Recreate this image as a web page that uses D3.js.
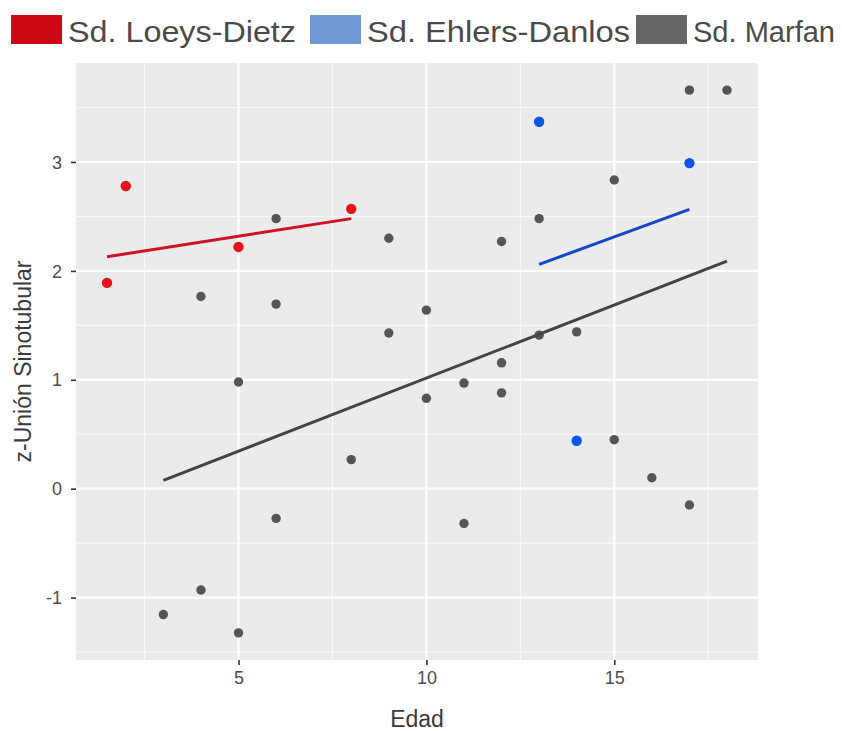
<!DOCTYPE html>
<html>
<head>
<meta charset="utf-8">
<script src="https://cdn.jsdelivr.net/npm/d3@7"></script>
<style>
    body { margin: 0; background: white; }
    text { font-family: "Liberation Sans", Arial, sans-serif; }
</style>
</head>
<body>
<div id="chart"></div>
<script>
// data
const groups = ["Sd. Loeys-Dietz", "Sd. Ehlers-Danlos", "Sd. Marfan"];

const ldAge = [1.5, 2, 5, 8];
const ldZ = [1.89, 2.78, 2.22, 2.57];

const edAge = [13, 17, 14];
const edZ = [3.37, 2.99, 0.44];

const mfAge = [17, 18, 15, 13, 6, 9, 12, 4, 6, 10, 9, 14, 13, 12, 5, 11, 12, 10, 8, 15, 16, 17, 6, 11, 3, 4, 5];
const mfZ = [3.66, 3.66, 2.835, 2.48, 2.48, 2.30, 2.27, 1.765, 1.695, 1.64, 1.43, 1.44, 1.41, 1.156, 0.98, 0.97, 0.88, 0.83, 0.267, 0.45, 0.10, -0.15, -0.273, -0.32, -1.156, -0.93, -1.324];

// fitted lines (end points, as drawn in the picture)
const ldFitAge = [1.5, 8];
const ldFitZ = [2.13, 2.48];
const edFitAge = [13, 17];
const edFitZ = [2.06, 2.565];
const mfFitAge = [3, 18];
const mfFitZ = [0.077, 2.09];

const xTicks = [5, 10, 15];
const xMinor = [2.5, 7.5, 12.5, 17.5];
const yTicks = [-1, 0, 1, 2, 3];
const yMinor = [-1.5, -0.5, 0.5, 1.5, 2.5, 3.5];

const xTitle = "Edad";
const yTitle = "z-Unión Sinotubular";

const width = 842;
const height = 731;
const panel = { left: 76, right: 758, top: 63, bottom: 660 };

const pointColors = ["#e3121c", "#0b55ef", "#555555"];
const lineColors = ["#cc1422", "#1447cc", "#444444"];
const keyColors = ["#cc0a16", "#6f98d4", "#666666"];

// legend layout (key left edge, text width)
const keyX = [11, 310, 636];
const keyTextW = [228, 263, 142];

const series = [
    { age: ldAge, z: ldZ, fitAge: ldFitAge, fitZ: ldFitZ, r: 5.2 },
    { age: edAge, z: edZ, fitAge: edFitAge, fitZ: edFitZ, r: 5.2 },
    { age: mfAge, z: mfZ, fitAge: mfFitAge, fitZ: mfFitZ, r: 4.7 }
];

// ggplot style 5% expansion
function expand(ext) {
    const pad = (ext[1] - ext[0]) * 0.05;
    return [ext[0] - pad, ext[1] + pad];
}
const allAge = ldAge.concat(edAge, mfAge);
const allZ = ldZ.concat(edZ, mfZ);

const x = d3.scaleLinear().domain(expand(d3.extent(allAge))).range([panel.left, panel.right]);
const y = d3.scaleLinear().domain(expand(d3.extent(allZ))).range([panel.bottom, panel.top]);

const svg = d3.select("#chart").append("svg")
    .attr("width", width)
    .attr("height", height);

// panel background
svg.append("rect")
    .attr("x", panel.left)
    .attr("y", panel.top)
    .attr("width", panel.right - panel.left)
    .attr("height", panel.bottom - panel.top)
    .attr("fill", "#ebebeb");

// grid
const grid = svg.append("g");
grid.selectAll(".xminor").data(xMinor).join("line")
    .attr("x1", d => x(d)).attr("x2", d => x(d))
    .attr("y1", panel.top).attr("y2", panel.bottom)
    .attr("stroke", "#fafafa").attr("stroke-width", 1.1);
grid.selectAll(".yminor").data(yMinor).join("line")
    .attr("y1", d => y(d)).attr("y2", d => y(d))
    .attr("x1", panel.left).attr("x2", panel.right)
    .attr("stroke", "#fafafa").attr("stroke-width", 1.1);
grid.selectAll(".xmajor").data(xTicks).join("line")
    .attr("x1", d => x(d)).attr("x2", d => x(d))
    .attr("y1", panel.top).attr("y2", panel.bottom)
    .attr("stroke", "white").attr("stroke-width", 2.2);
grid.selectAll(".ymajor").data(yTicks).join("line")
    .attr("y1", d => y(d)).attr("y2", d => y(d))
    .attr("x1", panel.left).attr("x2", panel.right)
    .attr("stroke", "white").attr("stroke-width", 2.2);

// axes
const xAxis = svg.append("g")
    .attr("transform", `translate(0,${panel.bottom})`)
    .call(d3.axisBottom(x).tickValues(xTicks).tickSize(5).tickPadding(6));
const yAxis = svg.append("g")
    .attr("transform", `translate(${panel.left},0)`)
    .call(d3.axisLeft(y).tickValues(yTicks).tickSize(5).tickPadding(9).tickFormat(d => String(d)));

[xAxis, yAxis].forEach(a => {
    a.select(".domain").remove();
    a.selectAll(".tick line").attr("stroke", "#333").attr("stroke-width", 1.6);
    a.selectAll(".tick text")
        .attr("fill", "#4d4d4d")
        .style("font-size", "18px")
        .style("font-family", "'Liberation Sans', Arial, sans-serif");
});
yAxis.selectAll(".tick text").attr("dy", "0.34em");

// points
series.forEach((s, i) => {
    svg.append("g").selectAll("circle")
        .data(s.age.map((a, j) => [a, s.z[j]]))
        .join("circle")
        .attr("cx", d => x(d[0]))
        .attr("cy", d => y(d[1]))
        .attr("r", s.r)
        .attr("fill", pointColors[i]);
});

// fitted lines
const line = d3.line().x(d => x(d[0])).y(d => y(d[1]));
series.forEach((s, i) => {
    svg.append("path")
        .datum(s.fitAge.map((a, j) => [a, s.fitZ[j]]))
        .attr("d", line)
        .attr("fill", "none")
        .attr("stroke", lineColors[i])
        .attr("stroke-width", 3);
});

// axis titles
svg.append("text")
    .attr("x", (panel.left + panel.right) / 2)
    .attr("y", 727)
    .attr("text-anchor", "middle")
    .attr("fill", "#3a3a3a")
    .style("font-size", "23px")
    .text(xTitle);

svg.append("text")
    .attr("transform", `translate(31,${(panel.top + panel.bottom) / 2}) rotate(-90)`)
    .attr("text-anchor", "middle")
    .attr("fill", "#3a3a3a")
    .style("font-size", "23px")
    .text(yTitle);

// legend
const legend = svg.append("g");
groups.forEach((g, i) => {
    legend.append("rect")
        .attr("x", keyX[i]).attr("y", 15)
        .attr("width", 51).attr("height", 29)
        .attr("fill", keyColors[i]);
    legend.append("text")
        .attr("x", keyX[i] + 57)
        .attr("y", 42)
        .attr("fill", "#4a4a4a")
        .attr("textLength", keyTextW[i])
        .attr("lengthAdjust", "spacingAndGlyphs")
        .style("font-size", "30px")
        .text(g);
});
</script>
</body>
</html>
